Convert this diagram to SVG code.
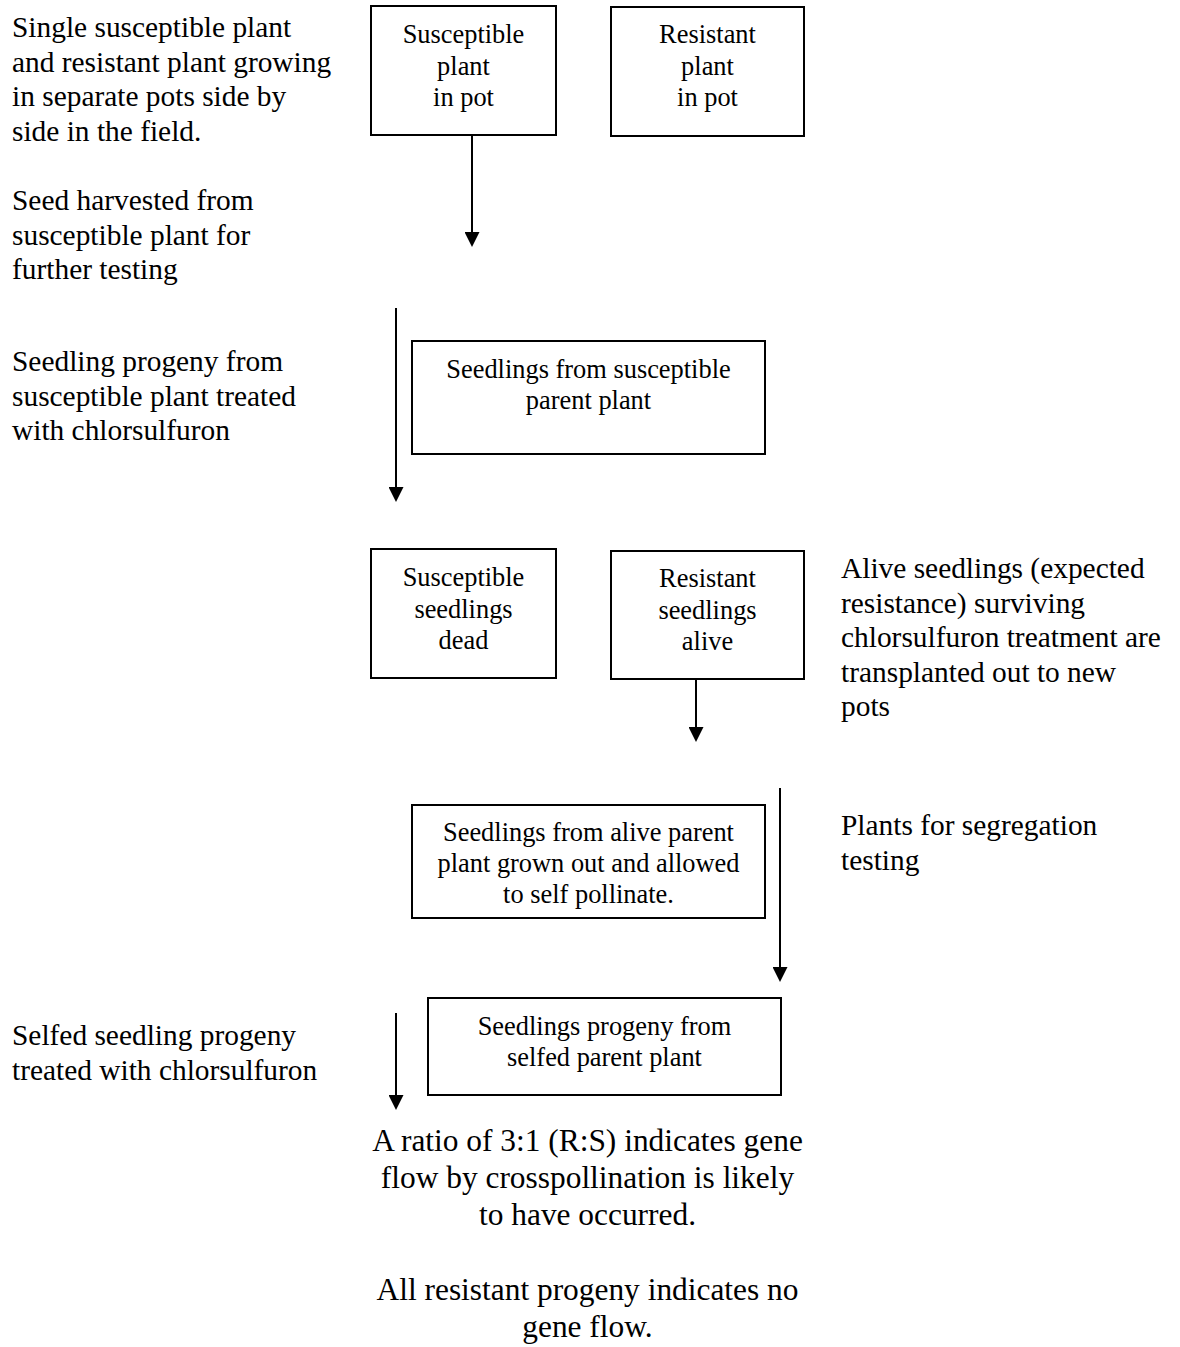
<svg xmlns="http://www.w3.org/2000/svg" width="1180" height="1347" viewBox="0 0 1180 1347">
<style>
text{font-family:"Liberation Serif","Times New Roman",serif;fill:#000}
.side{font-size:29.4px}
.box{font-size:26.4px;text-anchor:middle}
.big{font-size:31.4px;text-anchor:middle}
rect{fill:#fff;stroke:#000;stroke-width:2}
.arrow{stroke:#000;stroke-width:2;fill:none;marker-end:url(#ah)}
</style>
<defs>
<marker id="ah" markerUnits="userSpaceOnUse" markerWidth="16" markerHeight="15" viewBox="0 0 16 15" refX="7" refY="7.5" orient="auto">
<path d="M0,0 L15,7.5 L0,15 z" fill="#000"/>
</marker>
</defs>
<g id="labels">
<text class="side"><tspan x="12" y="37">Single susceptible plant</tspan><tspan x="12" y="71.5">and resistant plant growing</tspan><tspan x="12" y="106">in separate pots side by</tspan><tspan x="12" y="140.5">side in the field.</tspan></text>
<text class="side"><tspan x="12" y="210">Seed harvested from</tspan><tspan x="12" y="244.5">susceptible plant for</tspan><tspan x="12" y="279">further testing</tspan></text>
<text class="side"><tspan x="12" y="371">Seedling progeny from</tspan><tspan x="12" y="405.5">susceptible plant treated</tspan><tspan x="12" y="440">with chlorsulfuron</tspan></text>
<text class="side"><tspan x="841" y="578">Alive seedlings (expected</tspan><tspan x="841" y="612.5">resistance) surviving</tspan><tspan x="841" y="647">chlorsulfuron treatment are</tspan><tspan x="841" y="681.5">transplanted out to new</tspan><tspan x="841" y="716">pots</tspan></text>
<text class="side"><tspan x="841" y="835">Plants for segregation</tspan><tspan x="841" y="869.5">testing</tspan></text>
<text class="side"><tspan x="12" y="1045">Selfed seedling progeny</tspan><tspan x="12" y="1079.5">treated with chlorsulfuron</tspan></text>
<text class="big"><tspan x="587.5" y="1151">A ratio of 3:1 (R:S) indicates gene</tspan><tspan x="587.5" y="1188">flow by crosspollination is likely</tspan><tspan x="587.5" y="1225">to have occurred.</tspan><tspan x="587.5" y="1300">All resistant progeny indicates no</tspan><tspan x="587.5" y="1337">gene flow.</tspan></text>
</g>
<g id="connectors">
<line class="arrow" x1="472" y1="135" x2="472" y2="239"/>
<line class="arrow" x1="396" y1="308" x2="396" y2="494"/>
<line class="arrow" x1="696" y1="679" x2="696" y2="734"/>
<line class="arrow" x1="780" y1="788" x2="780" y2="974"/>
<line class="arrow" x1="396" y1="1013" x2="396" y2="1102"/>
</g>
<g id="susceptible-plant">
<rect x="371" y="6" width="185" height="129"/>
<text class="box"><tspan x="463.5" y="43">Susceptible</tspan><tspan x="463.5" y="74.5">plant</tspan><tspan x="463.5" y="106">in pot</tspan></text>
</g>
<g id="resistant-plant">
<rect x="611" y="7" width="193" height="129"/>
<text class="box"><tspan x="707.5" y="43">Resistant</tspan><tspan x="707.5" y="74.5">plant</tspan><tspan x="707.5" y="106">in pot</tspan></text>
</g>
<g id="seedlings-susceptible-parent">
<rect x="412" y="341" width="353" height="113"/>
<text class="box"><tspan x="588.5" y="378">Seedlings from susceptible</tspan><tspan x="588.5" y="409">parent plant</tspan></text>
</g>
<g id="susceptible-seedlings-dead">
<rect x="371" y="549" width="185" height="129"/>
<text class="box"><tspan x="463.5" y="586">Susceptible</tspan><tspan x="463.5" y="617.5">seedlings</tspan><tspan x="463.5" y="649">dead</tspan></text>
</g>
<g id="resistant-seedlings-alive">
<rect x="611" y="551" width="193" height="128"/>
<text class="box"><tspan x="707.5" y="587">Resistant</tspan><tspan x="707.5" y="618.5">seedlings</tspan><tspan x="707.5" y="650">alive</tspan></text>
</g>
<g id="seedlings-alive-parent">
<rect x="412" y="805" width="353" height="113"/>
<text class="box"><tspan x="588.5" y="841">Seedlings from alive parent</tspan><tspan x="588.5" y="872">plant grown out and allowed</tspan><tspan x="588.5" y="903">to self pollinate.</tspan></text>
</g>
<g id="seedlings-progeny-selfed">
<rect x="428" y="998" width="353" height="97"/>
<text class="box"><tspan x="604.5" y="1035">Seedlings progeny from</tspan><tspan x="604.5" y="1066">selfed parent plant</tspan></text>
</g>
</svg>
